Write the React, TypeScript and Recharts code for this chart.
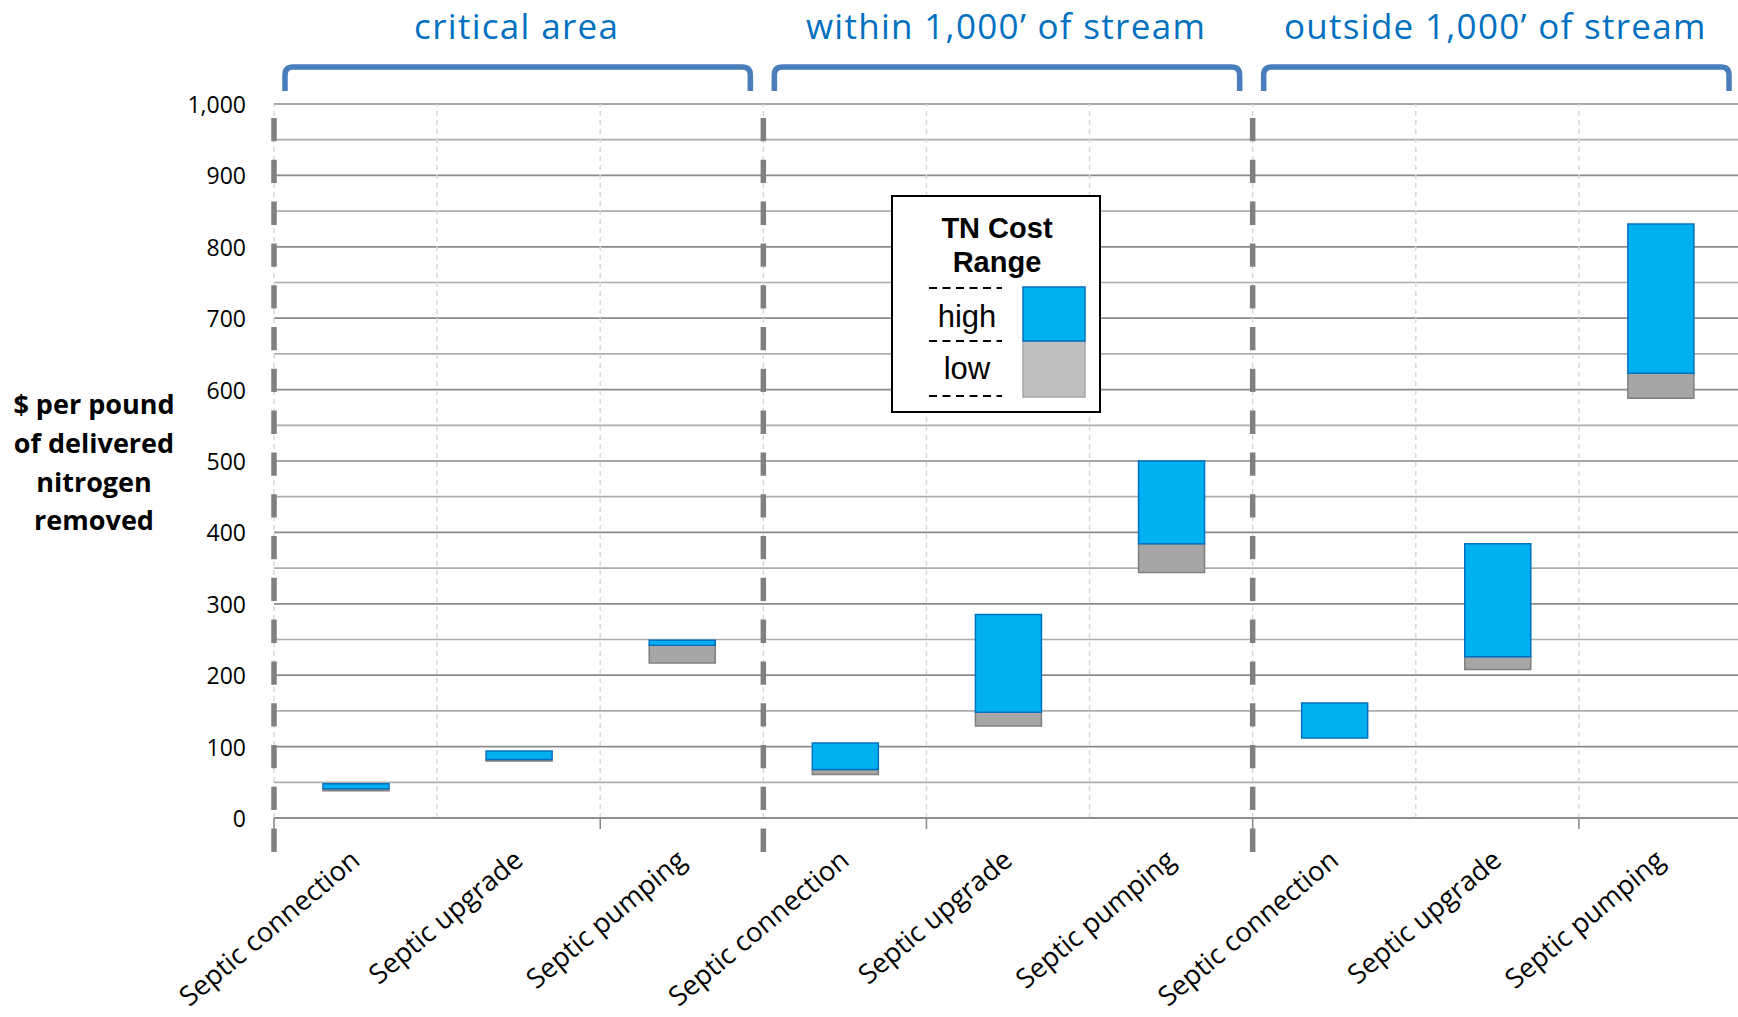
import React from 'react';
import { BarChart, Bar, XAxis, YAxis, CartesianGrid, ReferenceLine } from 'recharts';

// ---------- data ----------
const groups = ['critical area', 'within 1,000\u2019 of stream', 'outside 1,000\u2019 of stream'];
const practices = ['Septic connection', 'Septic upgrade', 'Septic pumping'];
// gray segment: lowStart -> lowEnd ; blue segment: lowEnd -> highEnd
const lowStart = [38, 80, 217, 61, 129, 344, 112, 208, 588];
const lowEnd = [41, 82, 242, 68, 148, 384, 112, 226, 623];
const highEnd = [48, 94, 249, 105, 285, 500, 161, 384, 832];
const yTicks = [0, 50, 100, 150, 200, 250, 300, 350, 400, 450, 500, 550, 600, 650, 700, 750, 800, 850, 900, 950, 1000];
const yTitleLines = ['$ per pound', 'of delivered', 'nitrogen', 'removed'];
const legendTitle = ['TN Cost', 'Range'];
const legendItems = ['high', 'low'];

const categories = groups.flatMap((g) => practices.map((p) => ({ key: g + '|' + p, name: p })));
const data = categories.map((c, i) => ({
  key: c.key,
  name: c.name,
  base: lowStart[i],
  low: lowEnd[i] - lowStart[i],
  high: highEnd[i] - lowEnd[i],
}));

// ---------- layout ----------
const W = 1738;
const H = 1017;
const PLOT_LEFT = 274;
const PLOT_TOP = 104;
const PLOT_BOTTOM = 818;
const PLOT_RIGHT = 1742;
const Y_AXIS_W = 120;
const X_AXIS_H = 60;
const PLOT_W = PLOT_RIGHT - PLOT_LEFT;
const CAT_W = PLOT_W / categories.length;
const FONT = '"Open Sans", "Noto Sans", sans-serif';
const ARIAL = '"Liberation Sans", Arial, sans-serif';

const YTick = (props: any) => {
  const { x, y, payload } = props;
  if (payload.value % 100 !== 0) return <g />;
  return (
    <text x={x} y={y} textAnchor="end" dominantBaseline="central" fontFamily={FONT} fontSize={23} fill="#000">
      {payload.value.toLocaleString('en-US')}
    </text>
  );
};

const XTick = (props: any) => {
  const { x, y, payload } = props;
  const name = String(payload.value).split('|')[1];
  const ax = x + 6;
  const ay = y + 45;
  return (
    <text x={ax} y={ay} textAnchor="end" transform={`rotate(-40, ${ax}, ${ay})`} fontFamily={FONT} fontSize={27.3} fill="#000">
      {name}
    </text>
  );
};

const GridLine = (p: any) => (
  <line
    key={p.key}
    x1={p.x1}
    y1={p.y1}
    x2={p.x2}
    y2={p.y2}
    stroke={p.index % 2 === 0 ? '#8a8a8a' : '#adadad'}
    strokeWidth={1.7}
  />
);

const SeparatorShape = (p: any) => {
  const top = Math.min(p.y1, p.y2);
  const bottom = Math.max(p.y1, p.y2);
  return (
    <line x1={p.x1} x2={p.x1} y1={top} y2={bottom + 34} stroke="#808080" strokeWidth={5.5} strokeDasharray="23.3 18.5" strokeDashoffset={27.8} />
  );
};

const TickMarkShape = (p: any) => {
  const bottom = Math.max(p.y1, p.y2);
  return <line x1={p.x1} x2={p.x1} y1={bottom} y2={bottom + 11} stroke="#868686" strokeWidth={1.5} />;
};

const LightVShape = (p: any) => (
  <line x1={p.x1} x2={p.x2} y1={p.y1} y2={p.y2} stroke="#d9d9d9" strokeWidth={1.5} strokeDasharray="5 4" />
);

const Overlay = () => {
  const brackets = groups.map((g, i) => {
    const xL = PLOT_LEFT + 3 * i * CAT_W + 11;
    const xR = PLOT_LEFT + (3 * i + 3) * CAT_W - 13;
    const cx = PLOT_LEFT + (3 * i + 1.5) * CAT_W - 2;
    return (
      <g key={g}>
        <path
          d={`M ${xL} 91 L ${xL} 75 Q ${xL} 67 ${xL + 8} 67 L ${xR - 8} 67 Q ${xR} 67 ${xR} 75 L ${xR} 91`}
          fill="none"
          stroke="#4a7ebb"
          strokeWidth={5.5}
        />
        <text x={cx} y={38.5} textAnchor="middle" fontFamily={FONT} fontSize={35} letterSpacing={1.3} fill="#0070c0">
          {g}
        </text>
      </g>
    );
  });
  return (
    <svg width={W} height={H} style={{ position: 'absolute', left: 0, top: 0, pointerEvents: 'none' }}>
      {brackets}
      {yTitleLines.map((t, i) => (
        <text key={t} x={94} y={414 + i * 38.8} textAnchor="middle" fontFamily={FONT} fontWeight="bold" fontSize={27} fill="#000">
          {t}
        </text>
      ))}
      {/* legend */}
      <rect x={892} y={196} width={208} height={216} fill="#fff" stroke="#000" strokeWidth={2} />
      <text x={997} y={238} textAnchor="middle" fontFamily={ARIAL} fontWeight="bold" fontSize={29}>{legendTitle[0]}</text>
      <text x={997} y={272} textAnchor="middle" fontFamily={ARIAL} fontWeight="bold" fontSize={29}>{legendTitle[1]}</text>
      {[288, 341, 396].map((y) => (
        <line key={y} x1={929} x2={1002} y1={y} y2={y} stroke="#000" strokeWidth={2} strokeDasharray="8 5.5" />
      ))}
      <text x={967} y={327} textAnchor="middle" fontFamily={ARIAL} fontSize={31}>{legendItems[0]}</text>
      <text x={967} y={379} textAnchor="middle" fontFamily={ARIAL} fontSize={31}>{legendItems[1]}</text>
      <rect x={1023} y={341} width={62} height={56} fill="#bfbfbf" stroke="#a6a6a6" strokeWidth={1.5} />
      <rect x={1023} y={287} width={62} height={54} fill="#00b0f0" stroke="#0070c0" strokeWidth={1.5} />
    </svg>
  );
};

export default function App() {
  return (
    <div style={{ position: 'absolute', left: 0, top: 0, width: W, height: H, background: '#fff', overflow: 'hidden' }}>
      <BarChart
        width={W}
        height={H}
        data={data}
        barSize={66}
        margin={{ top: PLOT_TOP, right: W - PLOT_RIGHT, bottom: H - PLOT_BOTTOM - X_AXIS_H, left: PLOT_LEFT - Y_AXIS_W }}
      >
        <CartesianGrid vertical={false} horizontal={GridLine as any} />
        <XAxis
          dataKey="key"
          interval={0}
          height={X_AXIS_H}
          tickLine={false}
          tickSize={0}
          tickMargin={0}
          axisLine={{ stroke: '#868686', strokeWidth: 1.6 }}
          tick={<XTick />}
        />
        <YAxis
          type="number"
          domain={[0, 1000]}
          ticks={yTicks}
          interval={0}
          width={Y_AXIS_W}
          axisLine={false}
          tickLine={false}
          tickSize={0}
          tickMargin={28}
          tick={<YTick />}
        />
        {categories.map((c) => (
          <ReferenceLine key={'v' + c.key} x={c.key} position="start" shape={LightVShape as any} />
        ))}
        {categories.map((c, i) =>
          i % 2 === 0 ? <ReferenceLine key={'t' + c.key} x={c.key} position="start" shape={TickMarkShape as any} /> : null
        )}
        {categories.map((c, i) =>
          i % 3 === 0 ? <ReferenceLine key={'s' + c.key} x={c.key} position="start" shape={SeparatorShape as any} /> : null
        )}
        <Bar dataKey="base" stackId="r" fill="transparent" isAnimationActive={false} />
        <Bar dataKey="low" stackId="r" fill="#a6a6a6" stroke="#7f7f7f" strokeWidth={1.5} isAnimationActive={false} />
        <Bar dataKey="high" stackId="r" fill="#00b0f0" stroke="#0070c0" strokeWidth={1.5} isAnimationActive={false} />
      </BarChart>
      <Overlay />
    </div>
  );
}
